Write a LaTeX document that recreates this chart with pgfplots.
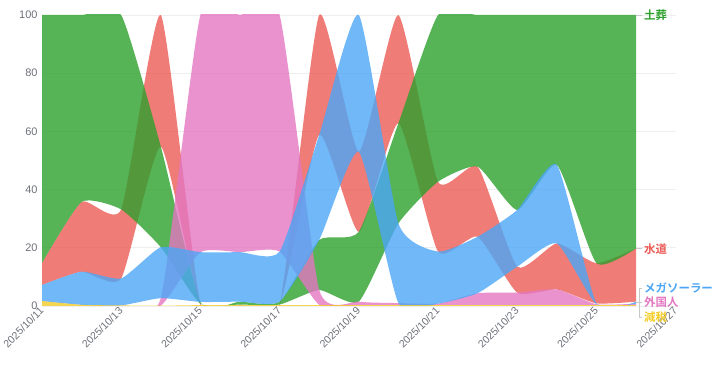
\documentclass[border=0pt]{standalone}
\usepackage{fontspec}
\setmainfont{Liberation Sans}
\newfontfamily\cjk{Noto Sans CJK JP}[BoldFont={Noto Sans CJK JP Bold}]
\usepackage{pgfplots}
\pgfplotsset{compat=1.18}
\usepackage{pgfplotstable}
\usepgfplotslibrary{fillbetween}

\definecolor{cgreen}{HTML}{2CA02C}
\definecolor{cred}{HTML}{EC5B56}
\definecolor{cblue}{HTML}{4CA6F6}
\definecolor{cpink}{HTML}{E377C2}
\definecolor{cyellow}{HTML}{F3CC24}
\definecolor{tickgray}{HTML}{6E7079}
\definecolor{gridgray}{HTML}{EEEEEE}
\definecolor{linkgray}{HTML}{C8C8C8}

% d: day index (0 = 2025/10/11), lo/hi: band limits (%)
\pgfplotstableread{
d lo hi
0 14.8 100
1 35.8 100
2 33.2 100
3 20.2 54.8
4 0.8 1.4
5 0.5 1.5
6 0.5 1.5
7 5.5 22.7
8 1.5 25.5
9 28.4 62.8
10 42.7 100
11 47.9 100
12 33.0 100
13 48.5 100
14 14.7 100
15 19.8 100
}\tgreen

\pgfplotstableread{
d lo hi
0 7.2 14.8
1 11.8 35.8
2 9.5 33.2
3 54.8 100
4 0.3 0.8
5 0.3 0.5
6 0.3 0.5
7 58.8 100
8 25.5 53.0
9 62.8 100
10 18.7 42.7
11 23.8 47.9
12 4.6 13.5
13 5.7 21.5
14 0.9 14.7
15 1.5 19.8
}\tred

\pgfplotstableread{
d lo hi
0 1.7 7.2
1 0.4 11.8
2 0.2 9.5
3 2.7 20.2
4 1.4 18.5
5 1.5 18.5
6 1.5 18.7
7 22.7 58.8
8 53.0 100
9 1.0 28.4
10 0.8 18.7
11 4.4 23.8
12 13.5 33.0
13 21.5 48.5
14 0.6 0.9
15 0.8 1.5
}\tblue

\pgfplotstableread{
d lo hi
0 1.7 1.7
1 0.4 0.4
2 0.2 0.2
3 0.1 2.7
4 18.5 100
5 18.5 100
6 18.7 100
7 0.4 5.5
8 0.3 1.5
9 0.3 1.0
10 0.3 0.8
11 0.3 4.4
12 0.3 4.6
13 0.3 5.7
14 0.3 0.6
15 0.3 0.8
}\tpink

\pgfplotstableread{
d lo hi
0 0 1.7
1 0 0.4
2 0 0.2
3 0 0.1
4 0 0.3
5 0 0.3
6 0 0.3
7 0 0.3
8 0 0.3
9 0 0.3
10 0 0.3
11 0 0.3
12 0 0.3
13 0 0.3
14 0 0.3
15 0 0.3
}\tyellow

\begin{document}
\begin{tikzpicture}
\begin{axis}[
  at={(42bp,62bp)}, anchor=south west,
  scale only axis, width=633.6bp, height=291bp,
  xmin=0, xmax=16, ymin=0, ymax=100,
  clip mode=individual,
  axis line style={draw=none},
  major tick style={draw=none},
  ymajorgrids, grid style={gridgray, line width=0.8pt},
  ytick={0,20,...,100},
  xtick={0,2,...,16},
  xticklabels={2025/10/11,2025/10/13,2025/10/15,2025/10/17,2025/10/19,2025/10/21,2025/10/23,2025/10/25,2025/10/27},
  /pgf/number format/assume math mode=true,
  x tick label style={rotate=45, anchor=east, font=\fontsize{10.5}{12}\selectfont, text=tickgray, yshift=-2bp, xshift=1bp},
  y tick label style={font=\fontsize{11}{12}\selectfont, text=tickgray, xshift=-1bp},
  band/.style={draw=none, smooth, tension=0.32},
]
% red
\addplot[band, name path=rH] table[x=d,y=hi]{\tred};
\addplot[band, name path=rL] table[x=d,y=lo]{\tred};
\addplot[fill=cred, fill opacity=0.8, draw=none] fill between[of=rH and rL];
% green
\addplot[band, name path=gH] table[x=d,y=hi]{\tgreen};
\addplot[band, name path=gL] table[x=d,y=lo]{\tgreen};
\addplot[fill=cgreen, fill opacity=0.8, draw=none] fill between[of=gH and gL];
% pink
\addplot[band, name path=pH] table[x=d,y=hi]{\tpink};
\addplot[band, name path=pL] table[x=d,y=lo]{\tpink};
\addplot[fill=cpink, fill opacity=0.8, draw=none] fill between[of=pH and pL];
% blue
\addplot[band, name path=bH] table[x=d,y=hi]{\tblue};
\addplot[band, name path=bL] table[x=d,y=lo]{\tblue};
\addplot[fill=cblue, fill opacity=0.8, draw=none] fill between[of=bH and bL];
% yellow
\addplot[band, name path=yH] table[x=d,y=hi]{\tyellow};
\addplot[band, name path=yL] table[x=d,y=lo]{\tyellow};
\addplot[fill=cyellow, fill opacity=0.8, draw=none] fill between[of=yH and yL];

% end labels
\draw[linkgray, line width=0.6pt] (axis cs:15,100) -- ++(6bp,0);
\draw[linkgray, line width=0.6pt] (axis cs:15,19.8) -- ++(6bp,0);
\draw[linkgray, line width=0.6pt] (axis cs:15,1.3) -- ++(3bp,0);
\draw[linkgray, line width=0.6pt] (axis cs:15,6.2) ++(3bp,0) -- ++(0,-29bp);
\draw[linkgray, line width=0.6pt] (axis cs:15,6.2) ++(3bp,0) -- ++(3bp,0);
\draw[linkgray, line width=0.6pt] (axis cs:15,1.4) ++(3bp,0) -- ++(3bp,0);
\draw[linkgray, line width=0.6pt] (axis cs:15,-3.8) ++(3bp,0) -- ++(3bp,0);
\begin{scope}[every node/.style={anchor=west, inner sep=0pt, font=\cjk\bfseries\fontsize{11.5}{12}\selectfont}]
\node[text=cgreen] at ([xshift=8bp]axis cs:15,100) {土葬};
\node[text=cred] at ([xshift=8bp]axis cs:15,19.6) {水道};
\node[text=cblue] at ([xshift=8bp]axis cs:15,6.2) {メガソーラー};
\node[text=cpink] at ([xshift=8bp]axis cs:15,1.4) {外国人};
\node[text=cyellow] at ([xshift=8bp]axis cs:15,-3.8) {減税};
\end{scope}
\end{axis}
\pgfresetboundingbox
\path[use as bounding box] (0,0) rectangle (720bp,368bp);
\end{tikzpicture}
\end{document}
